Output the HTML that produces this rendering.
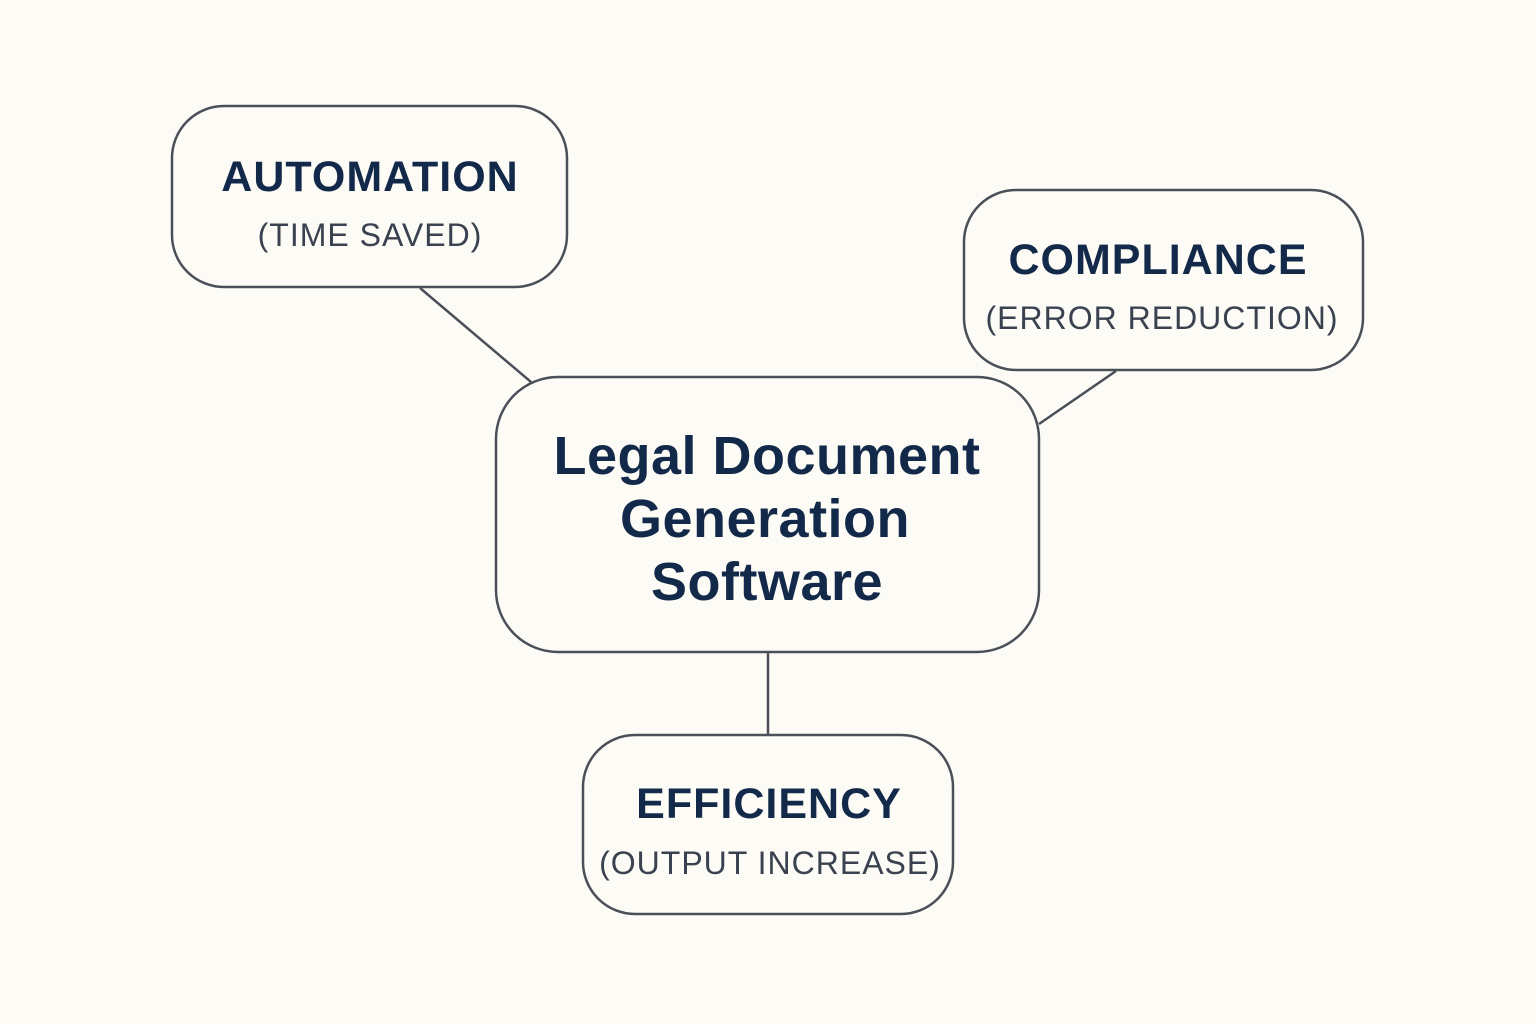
<!DOCTYPE html>
<html><head><meta charset="utf-8"><style>
html,body{margin:0;padding:0;background:#fdfbf6;}
svg{display:block;}
text{font-family:"Liberation Sans",sans-serif;}
.t{fill:#12294a;font-weight:bold;letter-spacing:1px;}
.s{fill:#3a4250;letter-spacing:1px;}
.c{fill:#12294a;font-weight:bold;letter-spacing:0.5px;}
</style></head><body>
<svg width="1536" height="1024" viewBox="0 0 1536 1024">
<rect width="1536" height="1024" fill="#fdfbf6"/>
<g stroke="#4a5058" stroke-width="2.5" fill="none">
<line x1="420" y1="288" x2="531" y2="382"/>
<line x1="1116" y1="371" x2="1039" y2="424"/>
<line x1="768" y1="652" x2="768" y2="735"/>
<rect x="172" y="106" width="395" height="181" rx="52" fill="#fdfbf6"/>
<rect x="964" y="190" width="399" height="180" rx="52" fill="#fdfbf6"/>
<rect x="496" y="377" width="543" height="275" rx="62" fill="#fdfbf6"/>
<rect x="583" y="735" width="370" height="179" rx="52" fill="#fdfbf6"/>
</g>
<g text-anchor="middle">
<text class="t" x="370" y="191" font-size="43">AUTOMATION</text>
<text class="s" x="370" y="246" font-size="32">(TIME SAVED)</text>
<text class="t" x="1158" y="274" font-size="43">COMPLIANCE</text>
<text class="s" x="1162" y="329" font-size="32">(ERROR REDUCTION)</text>
<text class="c" x="767" y="474" font-size="54">Legal Document</text>
<text class="c" x="765" y="537" font-size="54">Generation</text>
<text class="c" x="767" y="600" font-size="54">Software</text>
<text class="t" x="769" y="818" font-size="43">EFFICIENCY</text>
<text class="s" x="770" y="874" font-size="32">(OUTPUT INCREASE)</text>
</g>
</svg>
</body></html>
